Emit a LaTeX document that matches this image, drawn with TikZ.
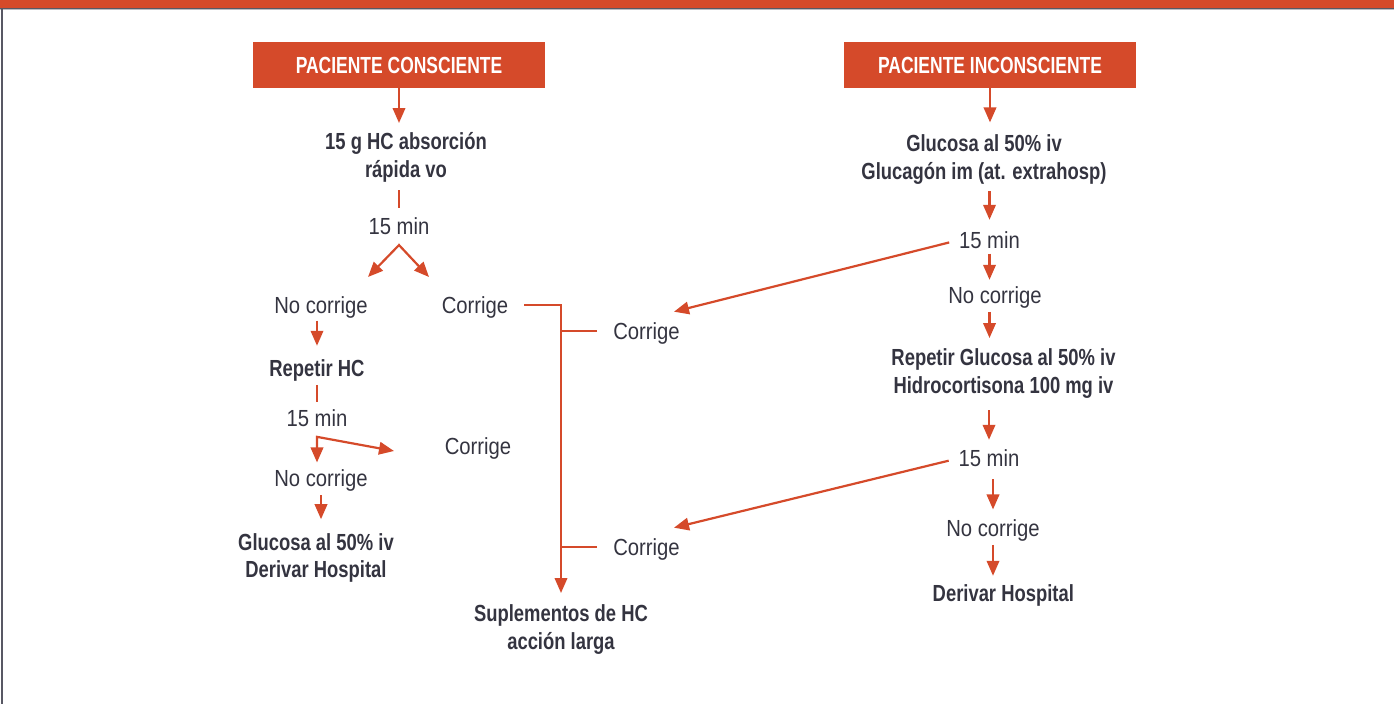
\documentclass[tikz,border=0pt]{standalone}
\usepackage{fontspec}
\setmainfont{Liberation Sans}
\newfontfamily\lightfont{Liberation Sans}[FakeStretch=0.87]
\newfontfamily\heavyfont{Liberation Sans}[FakeStretch=0.79]
\newfontfamily\boxfont{Liberation Sans}[FakeStretch=0.75]
\usetikzlibrary{arrows.meta}
\definecolor{hcorange}{RGB}{213,74,42}
\definecolor{hcdark}{RGB}{52,52,64}
\definecolor{hcframe}{RGB}{88,88,100}
\newcommand{\fsz}{\fontsize{23.3pt}{27.5pt}\selectfont}

\begin{document}
\begin{tikzpicture}[x=1pt, y=-1pt,
  hd/.tip={Triangle[length=15pt,width=12.5pt]},
  box/.style={fill=hcorange, text=white, minimum width=292pt, minimum height=46pt, inner sep=0pt, font=\boxfont\bfseries\fsz},
  lbl/.style={text=hcdark, inner sep=0pt, text height=16.7pt, text depth=0pt, font=\lightfont\fsz},
  act/.style={lbl, font=\heavyfont\bfseries\fsz},
  act2/.style={act, align=center, text height=44.2pt},
  ln/.style={draw=hcorange, line width=2.2pt},
  arr/.style={ln, -hd},
  arr2/.style={ln, hd-hd}]
 \useasboundingbox (0,0) rectangle (1394,704);
 % frame
 \fill[hcorange] (0,0) rectangle (1394,7.7);
 \draw[hcframe, line width=1pt] (0,8.2) -- (1394,8.2);
 \draw[hcframe!40, line width=1pt] (0,9.2) -- (1394,9.2);
 \fill[hcframe] (1,8) rectangle (2.8,704);

 % conscious patient
 \node[box] (pc) at (399,65) {PACIENTE CONSCIENTE};
 \node[act2] (hc) at (406,155.3) {15 g HC absorción\\rápida vo};
 \node[lbl] (t1) at (399,226.5) {15 min};
 \coordinate (sp1) at ([yshift=-10pt]t1.south);
 \coordinate (l1) at (368,277);
 \coordinate (r1) at (429,277);
 \node[lbl] (nc1) at (321,305) {No corrige};
 \node[lbl] (co1) at (475,305) {Corrige};
 \node[act] (rh) at (317,368.3) {Repetir HC};
 \node[lbl] (t2) at (317,418.3) {15 min};
 \coordinate (sp2) at ([yshift=-10pt]t2.south);
 \coordinate (r2) at (394,451);
 \node[lbl] (co2) at (478,446.5) {Corrige};
 \node[lbl] (nc2) at (321,478) {No corrige};
 \node[act2] (gl) at (316,555.8) {Glucosa al 50\% iv\\Derivar Hospital};

 \draw[arr, shorten >=10pt] (pc.south) -- (pc.south |- hc.north);
 \draw[ln, shorten <=12.5pt, shorten >=10pt] (t1 |- hc.south) -- (t1.north);
 \draw[arr2] (l1) -- (sp1) -- (r1);
 \draw[arr, shorten <=7pt, shorten >=14pt] (rh.north |- nc1.south) -- (rh.north);
 \draw[ln, shorten <=8pt, shorten >=8pt] (rh.south) -- (t2.north);
 \draw[arr2, shorten <=7pt] (sp2 |- nc2.north) -- (sp2) -- (r2);
 \draw[arr, shorten <=8.7pt, shorten >=14.3pt] (nc2.south) -- (nc2.south |- gl.north);

 % corrige branch
 \node[act2] (su) at (561,627) {Suplementos de HC\\acción larga};
 \node[lbl] (co3) at (646.5,331) {Corrige};
 \node[lbl] (co4) at (646.5,547) {Corrige};
 \draw[arr, shorten <=15.6pt, shorten >=11.7pt] (co1.east) -| (su.north);
 \draw[ln, shorten <=16pt] (co3.west) -- (co3.west -| su.north);
 \draw[ln, shorten <=16pt] (co4.west) -- (co4.west -| su.north);

 % unconscious patient
 \node[box] (pi) at (990,65) {PACIENTE INCONSCIENTE};
 \node[act2] (g1) at (984,157) {Glucosa al 50\% iv\\Glucagón im (at. extrahosp)};
 \node[lbl] (t3) at (989.5,240) {15 min};
 \node[lbl] (nc3) at (995,295) {No corrige};
 \coordinate (d1) at (674,311.7);
 \node[act2] (rg) at (1003.5,371.3) {Repetir Glucosa al 50\% iv\\Hidrocortisona 100 mg iv};
 \node[lbl] (t4) at (989,458.3) {15 min};
 \node[lbl] (nc4) at (993,528) {No corrige};
 \coordinate (d2) at (674,527.7);
 \node[act] (dh) at (1003.3,593.3) {Derivar Hospital};

 \draw[arr, shorten >=12.3pt] (pi.south) -- (pi.south |- g1.north);
 \draw[arr, shorten <=12pt, shorten >=11.7pt] (t3 |- g1.south) -- (t3.north);
 \draw[arr, shorten <=5pt, shorten >=6.7pt] (t3.south) -- (t3.south |- nc3.north);
 \draw[arr, shorten <=10pt] (t3.west) -- (d1);
 \draw[arr, shorten <=8.4pt, shorten >=11pt] (t3 |- nc3.south) -- (t3 |- rg.north);
 \draw[arr, shorten <=16.7pt, shorten >=10pt] (t4 |- rg.south) -- (t4.north);
 \draw[arr, shorten <=12.6pt, shorten >=10pt] (nc4 |- t4.south) -- (nc4.north);
 \draw[arr, shorten <=10pt] (t4.west) -- (d2);
 \draw[arr, shorten <=8.3pt, shorten >=9pt] (nc4.south) -- (nc4.south |- dh.north);
\end{tikzpicture}
\end{document}
